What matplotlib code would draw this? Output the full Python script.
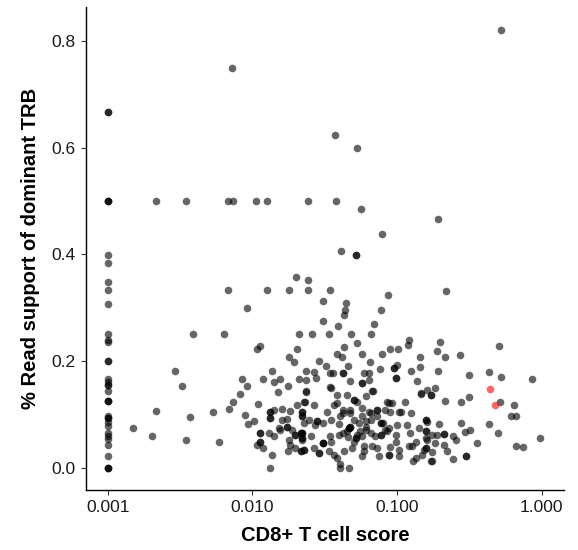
import numpy as np
import matplotlib
matplotlib.use('Agg')
import matplotlib.pyplot as plt
from matplotlib.ticker import FuncFormatter, NullLocator

# data: CD8+ T cell score vs % read support of dominant TRB
# samples with score at the floor (0.001)
floor_y = [0.667, 0.667, 0.5, 0.5, 0.5, 0.399, 0.384, 0.349, 0.333, 0.307,
           0.250, 0.240, 0.235, 0.200, 0.200, 0.166, 0.160, 0.155, 0.155, 0.143,
           0.125, 0.125, 0.125, 0.097, 0.093, 0.093, 0.085, 0.079, 0.065, 0.059,
           0.054, 0.0425, 0.021, 0.0, 0.0, 0.0]

# low scores
low_x = [0.00214, 0.00349, 0.00389, 0.00292, 0.00328, 0.00214, 0.00372, 0.00149, 0.00202, 0.00348,
         0.00585, 0.00531, 0.0069, 0.0073, 0.00826, 0.00914, 0.0084, 0.00885, 0.00927, 0.0103,
         0.00716, 0.00675, 0.00735, 0.00675, 0.00919, 0.00637]
low_y = [0.5, 0.5, 0.250, 0.182, 0.154, 0.107, 0.095, 0.074, 0.060, 0.052,
         0.049, 0.105, 0.110, 0.124, 0.138, 0.154, 0.167, 0.099, 0.082, 0.087,
         0.749, 0.5, 0.5, 0.333, 0.300, 0.25]

# upper part of the cloud
up_x = [0.52, 0.0372, 0.0525, 0.01054, 0.01265, 0.0241, 0.0378, 0.0562, 0.190, 0.078,
        0.0411, 0.0522, 0.0522, 0.0201, 0.0243, 0.0125, 0.0178, 0.024, 0.0341, 0.218,
        0.086, 0.0308, 0.0445, 0.0435, 0.0427, 0.0769, 0.0308, 0.0387, 0.0691, 0.0211,
        0.0259, 0.0336, 0.0482, 0.0656, 0.0112, 0.0107, 0.0203, 0.0178, 0.0195, 0.0137,
        0.0234, 0.0527, 0.0431, 0.121, 0.119, 0.0898, 0.1007, 0.0385, 0.0415, 0.0568,
        0.0785, 0.143, 0.029, 0.0653, 0.1002, 0.0324, 0.0454, 0.144, 0.0267, 0.036,
        0.0425, 0.0425, 0.0757, 0.095, 0.095, 0.125, 0.0588, 0.064, 0.0986, 0.0986,
        0.197, 0.188, 0.214, 0.272, 0.504, 0.191, 0.316, 0.432, 0.526, 0.849]
up_y = [0.822, 0.625, 0.600, 0.5, 0.5, 0.5, 0.5, 0.486, 0.466, 0.438,
        0.407, 0.399, 0.399, 0.357, 0.353, 0.333, 0.333, 0.333, 0.333, 0.332,
        0.323, 0.312, 0.308, 0.295, 0.287, 0.295, 0.275, 0.266, 0.270, 0.25,
        0.25, 0.25, 0.25, 0.25, 0.229, 0.222, 0.222, 0.208, 0.199, 0.182,
        0.182, 0.234, 0.227, 0.240, 0.230, 0.222, 0.222, 0.214, 0.208, 0.214,
        0.214, 0.208, 0.200, 0.198, 0.193, 0.190, 0.190, 0.188, 0.180, 0.178,
        0.178, 0.178, 0.185, 0.187, 0.187, 0.182, 0.177, 0.177, 0.169, 0.169,
        0.236, 0.219, 0.208, 0.211, 0.229, 0.182, 0.174, 0.180, 0.171, 0.166]

# dense core, left half
core_l_x = [0.0118, 0.0156, 0.0141, 0.0177, 0.0211, 0.0149, 0.0235, 0.011, 0.0133, 0.0133,
            0.0132, 0.0132, 0.0141, 0.016, 0.0183, 0.0204, 0.0226, 0.0221, 0.0221, 0.0161,
            0.0174, 0.0152, 0.0156, 0.0174, 0.0174, 0.0187, 0.0198, 0.0198, 0.0215, 0.0215,
            0.0221, 0.0221, 0.0112, 0.0112, 0.0112, 0.0112, 0.0107, 0.0119, 0.013, 0.0141,
            0.0178, 0.0183, 0.0175, 0.0198, 0.0217, 0.0217, 0.0137, 0.0132]
core_l_y = [0.167, 0.167, 0.160, 0.154, 0.167, 0.142, 0.142, 0.120, 0.104, 0.104,
            0.093, 0.093, 0.109, 0.110, 0.107, 0.118, 0.124, 0.105, 0.105, 0.090,
            0.092, 0.074, 0.070, 0.077, 0.077, 0.071, 0.062, 0.062, 0.065, 0.065,
            0.056, 0.056, 0.065, 0.065, 0.049, 0.049, 0.043, 0.036, 0.065, 0.060,
            0.052, 0.043, 0.032, 0.037, 0.032, 0.032, 0.023, 0.0]

# dense core, middle
core_m_x = [0.0235, 0.0274, 0.0346, 0.0474, 0.0574, 0.0574, 0.0636, 0.138,
            0.0235, 0.035, 0.0385, 0.0448, 0.0505, 0.0505, 0.053, 0.0605, 0.0678, 0.085, 0.092, 0.114, 0.146,
            0.0232, 0.0265, 0.0329, 0.0385, 0.042, 0.0474, 0.0574, 0.0636, 0.0727, 0.0727, 0.0829, 0.0898,
            0.106, 0.124,
            0.0221, 0.0221, 0.0245, 0.0278, 0.0278, 0.0309, 0.035, 0.0403, 0.0464, 0.0464, 0.0464, 0.0505,
            0.0574, 0.0656, 0.0727, 0.0793, 0.0878, 0.1, 0.117, 0.141,
            0.0221, 0.0221, 0.0252, 0.0309, 0.0309, 0.0346, 0.0396, 0.0448, 0.0505, 0.053, 0.0574, 0.0605,
            0.0656, 0.0769, 0.0769, 0.085, 0.0977, 0.123, 0.134, 0.157,
            0.0226, 0.0226, 0.0265, 0.0287, 0.0287, 0.0336, 0.0385, 0.0488, 0.0588, 0.0727, 0.0747, 0.0878,
            0.0878, 0.0898, 0.103, 0.127, 0.129, 0.153,
            0.0403, 0.0464, 0.0574]
core_m_y = [0.165, 0.168, 0.177, 0.162, 0.159, 0.159, 0.165, 0.163,
            0.143, 0.149, 0.137, 0.137, 0.127, 0.127, 0.124, 0.134, 0.144, 0.124, 0.121, 0.124, 0.139,
            0.124, 0.118, 0.105, 0.121, 0.109, 0.109, 0.112, 0.105, 0.109, 0.109, 0.109, 0.105,
            0.105, 0.102,
            0.096, 0.096, 0.090, 0.087, 0.087, 0.084, 0.090, 0.096, 0.074, 0.074, 0.074, 0.090,
            0.096, 0.090, 0.096, 0.084, 0.074, 0.080, 0.080, 0.074,
            0.065, 0.065, 0.059, 0.047, 0.047, 0.059, 0.062, 0.068, 0.049, 0.062, 0.059, 0.071,
            0.065, 0.062, 0.062, 0.068, 0.062, 0.065, 0.049, 0.056,
            0.034, 0.034, 0.037, 0.027, 0.027, 0.031, 0.018, 0.037, 0.031, 0.037, 0.021, 0.024,
            0.024, 0.039, 0.034, 0.040, 0.012, 0.034,
            0.0, 0.0, 0.021]

# extra points in the darkest part of the core
core_d_x = [0.0346, 0.0364, 0.042, 0.0474, 0.0543, 0.0605, 0.0474, 0.0474, 0.042, 0.0272,
            0.0226, 0.0309, 0.035, 0.0522, 0.0522, 0.0588, 0.0428, 0.0364, 0.0403, 0.0221,
            0.0672, 0.0878, 0.146, 0.171, 0.103, 0.0656, 0.0769, 0.0769, 0.0829, 0.0706,
            0.0977, 0.121, 0.0672, 0.103, 0.134, 0.175, 0.0606, 0.0455, 0.0555, 0.0395]
core_d_y = [0.152, 0.118, 0.102, 0.102, 0.084, 0.077, 0.077, 0.077, 0.065, 0.080,
            0.084, 0.046, 0.049, 0.056, 0.056, 0.040, 0.031, 0.024, 0.006, 0.052,
            0.143, 0.121, 0.140, 0.137, 0.105, 0.102, 0.084, 0.084, 0.071, 0.059,
            0.049, 0.040, 0.040, 0.021, 0.018, 0.012, 0.088, 0.058, 0.069, 0.081]

# right side of the cloud
right_x = [0.184, 0.162, 0.171, 0.514, 0.643, 0.213, 0.278, 0.314, 0.61, 0.668,
           0.43, 0.499, 0.97, 0.668, 0.743, 0.359, 0.275, 0.296, 0.319, 0.245,
           0.257, 0.196, 0.211, 0.211, 0.157, 0.157, 0.162, 0.157, 0.157, 0.175,
           0.189, 0.162, 0.183, 0.211, 0.222, 0.157, 0.157, 0.175, 0.149, 0.243,
           0.298, 0.298, 0.17]
right_y = [0.150, 0.145, 0.137, 0.123, 0.118, 0.125, 0.123, 0.133, 0.097, 0.097,
           0.082, 0.065, 0.055, 0.041, 0.039, 0.046, 0.083, 0.067, 0.070, 0.059,
           0.051, 0.082, 0.064, 0.064, 0.090, 0.090, 0.086, 0.068, 0.068, 0.062,
           0.062, 0.052, 0.046, 0.043, 0.032, 0.036, 0.036, 0.029, 0.024, 0.016,
           0.022, 0.022, 0.012]

# highlighted samples (red)
red_x = [0.439, 0.473]
red_y = [0.148, 0.118]

grey_x = [0.001] * len(floor_y) + low_x + up_x + core_l_x + core_m_x + core_d_x + right_x
grey_y = floor_y + low_y + up_y + core_l_y + core_m_y + core_d_y + right_y

plt.rcParams['font.family'] = ['Liberation Sans', 'DejaVu Sans']

fig = plt.figure(figsize=(5.78, 5.5), dpi=100)
ax = fig.add_axes([0.149, 0.11, 0.826, 0.877])

ax.scatter(grey_x, grey_y, s=30, color='black', alpha=0.6, linewidths=0)
ax.scatter(red_x, red_y, s=30, color='red', alpha=0.6, linewidths=0)

# axes
ax.set_xscale('log')
ax.set_xlim(10 ** -3.15, 10 ** 0.15)
ax.set_ylim(-0.041, 0.864)
ax.set_xticks([0.001, 0.01, 0.1, 1.0])
ax.xaxis.set_minor_locator(NullLocator())
ax.xaxis.set_major_formatter(FuncFormatter(lambda v, p: '%.3f' % v))
ax.set_yticks([0.0, 0.2, 0.4, 0.6, 0.8])
ax.yaxis.set_major_formatter(FuncFormatter(lambda v, p: '%.1f' % v))

for side in ['top', 'right']:
    ax.spines[side].set_visible(False)
for side in ['left', 'bottom']:
    ax.spines[side].set_linewidth(1.0)
ax.tick_params(length=3.5, width=0.8, color='#333333', labelsize=12.5, labelcolor='#1a1a1a', pad=4)

ax.set_xlabel('CD8+ T cell score', fontsize=14.5, fontweight='bold', labelpad=8)
ax.set_ylabel('% Read support of dominant TRB', fontsize=14.5, fontweight='bold', labelpad=8)

fig.savefig('out.png', dpi=100)
